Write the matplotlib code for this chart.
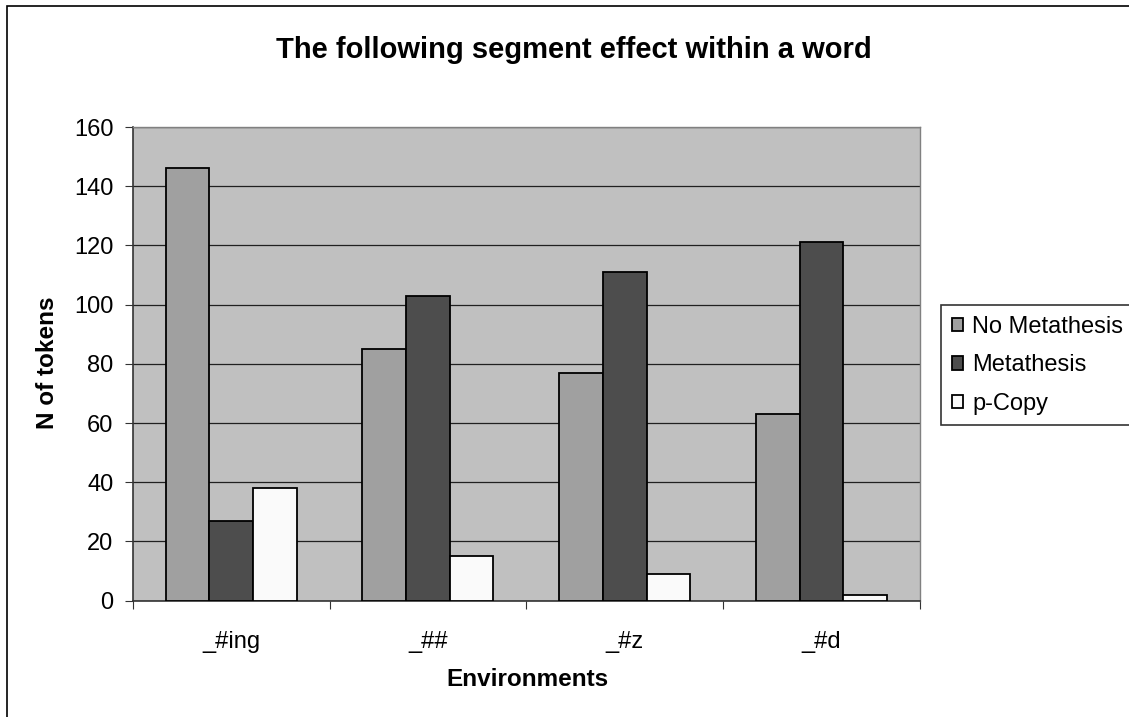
import numpy as np
import matplotlib
matplotlib.use("Agg")
import matplotlib.pyplot as plt
from matplotlib.patches import Rectangle

plt.rcParams['font.family'] = ['Liberation Sans', 'DejaVu Sans']

# -------------------------------
# Data
# -------------------------------
environments = ["_#ing", "_##", "_#z", "_#d"]
no_metathesis = [146, 85, 77, 63]
metathesis = [27, 103, 111, 121]
p_copy = [38, 15, 9, 2]

series = [
    ("No Metathesis", no_metathesis, "#a0a0a0"),
    ("Metathesis", metathesis, "#4d4d4d"),
    ("p-Copy", p_copy, "#fafafa"),
]

W, H = 1129, 717
fig = plt.figure(figsize=(W / 100, H / 100), dpi=100)

# chart area border (cropped on right/bottom)
fig.patches.append(Rectangle((7 / W, -0.1), 1.2, 1 - 6 / H + 0.1,
                             transform=fig.transFigure, fill=False,
                             edgecolor="black", linewidth=1.2))

ax = fig.add_axes([132.7 / W, 1 - 600.7 / H, (920 - 132.7) / W, (600.7 - 127) / H])
ax.set_facecolor("#c0c0c0")

x = np.arange(len(environments))
bw = 0.666 / 3
for i, (name, vals, col) in enumerate(series):
    ax.bar(x - 0.333 + bw / 2 + i * bw, vals, width=bw, color=col,
           edgecolor="black", linewidth=1.3, label=name, zorder=3)

ax.set_xlim(-0.5, len(environments) - 0.5)
ax.set_ylim(0, 160)
ax.set_yticks(range(0, 161, 20))
ax.grid(axis="y", color="#202020", linewidth=0.9, zorder=1)
ax.set_axisbelow(True)

# category ticks between groups, labels at centres
ax.set_xticks(np.arange(-0.5, len(environments), 1.0))
ax.set_xticklabels([])
ax.set_xticks(x, minor=True)
ax.set_xticklabels(environments, minor=True, fontsize=17)
ax.tick_params(axis="x", which="minor", length=0, pad=22)
ax.tick_params(axis="x", which="major", length=6, direction="out", color="#333333")
ax.tick_params(axis="y", length=6, direction="out", labelsize=17, pad=8, color="#333333")

for s in ["top", "right"]:
    ax.spines[s].set_color("#808080")
    ax.spines[s].set_linewidth(1.0)
ax.spines["left"].set_color("#333333")
ax.spines["bottom"].set_color("#333333")
ax.spines["left"].set_linewidth(1.2)
ax.spines["bottom"].set_linewidth(1.2)

fig.text(574 / W, 1 - 58 / H, "The following segment effect within a word",
         ha="center", va="baseline", fontsize=21, fontweight="bold")
fig.text(48 / W, 1 - 363 / H, "N of tokens", rotation=90,
         ha="center", va="center", fontsize=17.5, fontweight="bold")
fig.text(527 / W, 1 - 680 / H, "Environments",
         ha="center", va="center", fontsize=17.5, fontweight="bold")

leg = fig.legend(loc="upper left", bbox_to_anchor=(941 / W, 1 - 305 / H),
                 fontsize=17, frameon=True, fancybox=False, edgecolor="black",
                 handlelength=0.5, handleheight=0.5, handletextpad=0.38,
                 labelspacing=0.7, borderpad=0.45, borderaxespad=0)
leg.get_frame().set_linewidth(1.2)

fig.savefig("out.png", dpi=100)
